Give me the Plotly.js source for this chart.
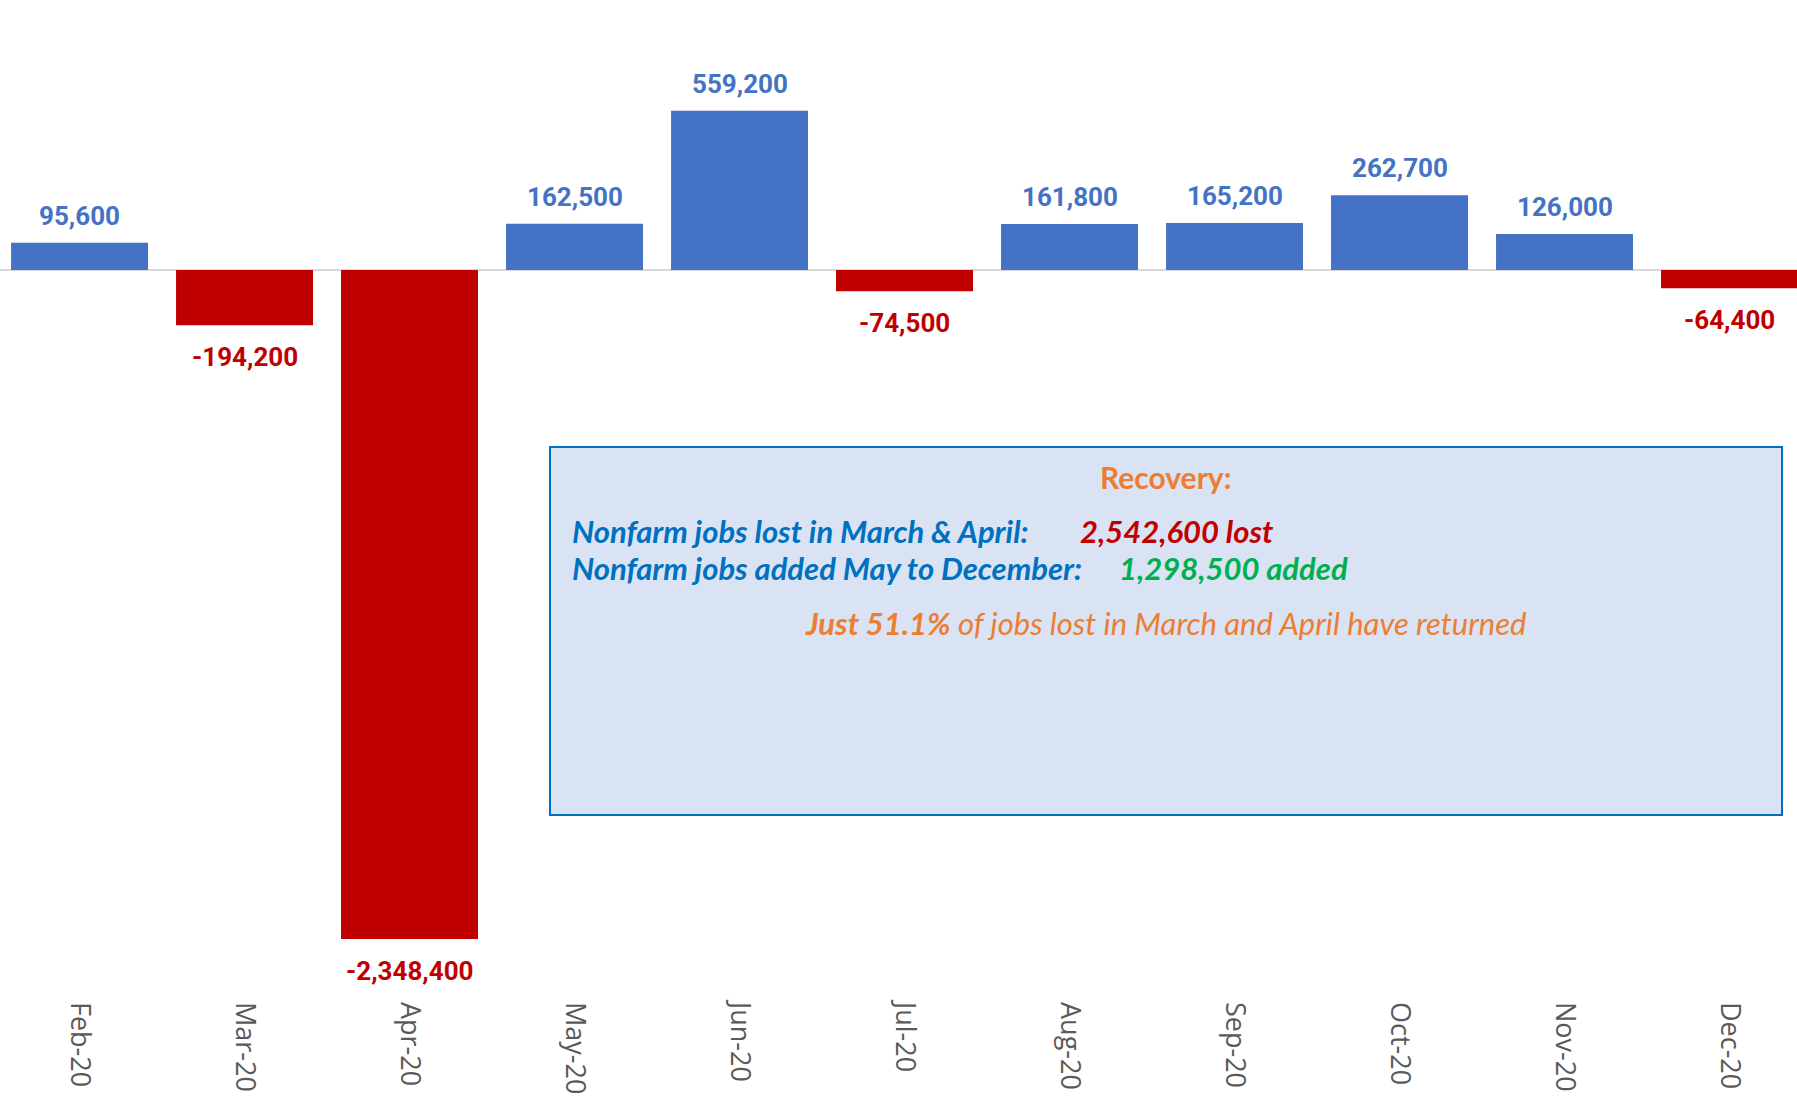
<!DOCTYPE html>
<html>
<head>
<meta charset="utf-8">
<script src="https://cdn.plot.ly/plotly-3.0.1.min.js"></script>
<style>
  html, body { margin: 0; padding: 0; background: #fff; }
  #chart { width: 1797px; height: 1103px; }
</style>
</head>
<body>
<div id="chart"></div>
<script>
// monthly change in nonfarm jobs, 2020
const months = ['Feb-20', 'Mar-20', 'Apr-20', 'May-20', 'Jun-20', 'Jul-20',
                'Aug-20', 'Sep-20', 'Oct-20', 'Nov-20', 'Dec-20'];
const jobChange = [95600, -194200, -2348400, 162500, 559200, -74500,
                   161800, 165200, 262700, 126000, -64400];

const lostMarApr = 2542600;
const addedMayDec = 1298500;
const pctReturned = '51.1%';

const BLUE = '#4472C4';
const RED = '#C00000';
const W = 1797, H = 1103;
const M = { l: 0, r: 0, t: 0, b: 108 };
const plotH = H - M.t - M.b;

// pixel -> paper helpers for the callout box
const px = x => x / W;
const py = y => 1 - y / plotH;

const fmt = v => (v < 0 ? '-' : '') + Math.abs(v).toLocaleString('en-US');

const barColors = jobChange.map(v => v >= 0 ? BLUE : RED);

const trace = {
  type: 'bar',
  x: months,
  y: jobChange,
  marker: { color: barColors },
  hoverinfo: 'x+y',
};

const labelFont = "Roboto, 'Liberation Sans', sans-serif";
const boxFont = "Lato, 'Open Sans', sans-serif";

const barLabels = months.map((m, i) => {
  const v = jobChange[i];
  return {
    x: m, y: v, xref: 'x', yref: 'y',
    text: '<b>' + fmt(v) + '</b>',
    showarrow: false,
    yanchor: v >= 0 ? 'bottom' : 'top',
    yshift: v >= 0 ? 10 : -15,
    font: { family: labelFont, size: 26, color: v >= 0 ? BLUE : RED },
  };
});

const boxText = [
  { x: px(1165), y: py(477), xanchor: 'center', size: 30,
    text: '<b>Recovery:</b>', color: '#ED7D31' },
  { x: px(570), y: py(531), xanchor: 'left', size: 31,
    text: '<b><i>Nonfarm jobs lost in March &amp; April:</i></b>', color: '#0070C0' },
  { x: px(1078), y: py(531), xanchor: 'left', size: 31,
    text: '<b><i>' + fmt(lostMarApr) + ' lost</i></b>', color: RED },
  { x: px(570), y: py(568), xanchor: 'left', size: 31,
    text: '<b><i>Nonfarm jobs added May to December:</i></b>', color: '#0070C0' },
  { x: px(1117), y: py(568), xanchor: 'left', size: 31,
    text: '<b><i>' + fmt(addedMayDec) + ' added</i></b>', color: '#00B050' },
  { x: px(1165), y: py(623), xanchor: 'center', size: 31,
    text: '<b><i>Just ' + pctReturned + '</i></b><i> of jobs lost in March and April have returned</i>',
    color: '#ED7D31' },
].map(a => ({
  x: a.x, y: a.y, xref: 'paper', yref: 'paper',
  xanchor: a.xanchor, yanchor: 'middle',
  text: a.text, showarrow: false,
  font: { family: boxFont, size: a.size, color: a.color },
}));

// value -> pixel scale (zero at y=270, Apr bottom at y=939)
const k = (939 - 270) / 2348400;
const yTop = 270 / k;
const yBot = -(plotH - 270) / k;

const layout = {
  width: W, height: H,
  margin: M,
  paper_bgcolor: '#fff',
  plot_bgcolor: '#fff',
  showlegend: false,
  bargap: 0.17,
  xaxis: {
    type: 'category',
    range: [-0.482, 10.409],
    tickangle: 90,
    ticklabelstandoff: 6,
    showgrid: false, showline: false, zeroline: false, ticks: '',
    tickfont: { family: "'Open Sans', sans-serif", size: 27, color: '#595959' },
  },
  yaxis: {
    range: [yBot, yTop],
    showgrid: false, showline: false, showticklabels: false, ticks: '',
    zeroline: true, zerolinecolor: '#d9d9d9', zerolinewidth: 2,
  },
  shapes: [
    { type: 'rect', xref: 'paper', yref: 'paper',
      x0: px(550), x1: px(1782), y0: py(815), y1: py(447),
      fillcolor: '#DAE3F3', line: { color: '#0070C0', width: 2 } },
  ],
  annotations: barLabels.concat(boxText),
};

Plotly.newPlot('chart', [trace], layout, { displayModeBar: false, staticPlot: true });
</script>
</body>
</html>
